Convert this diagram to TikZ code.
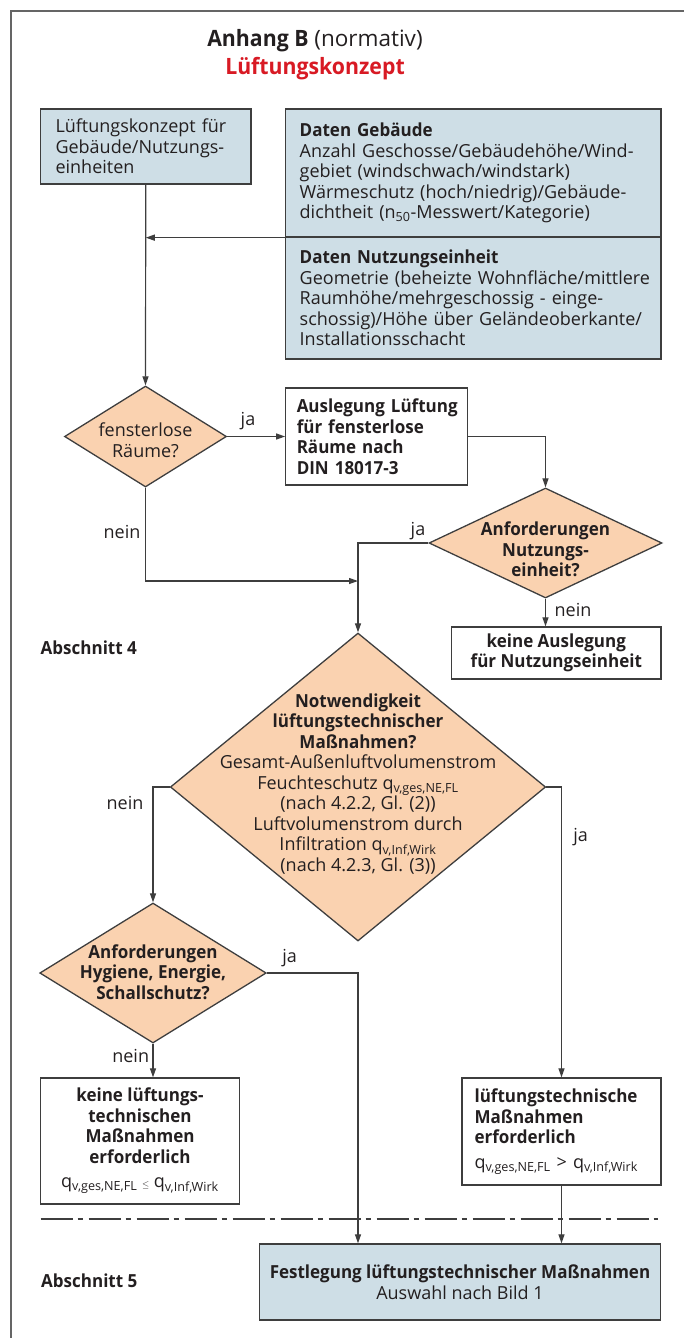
\documentclass[tikz,border=0pt]{standalone}
\usepackage{fontspec}
\setmainfont[BoldFeatures={FakeStretch=0.945}]{Open Sans}
\usetikzlibrary{arrows.meta,shapes.geometric}
\definecolor{B}{RGB}{206,222,230}
\definecolor{O}{RGB}{250,210,176}
\definecolor{R}{RGB}{216,26,36}
\definecolor{L}{RGB}{62,62,62}
\definecolor{T}{RGB}{35,31,32}
\newcommand\bodysize{\fontsize{18}{20.5}\selectfont}
\newcommand\titlesize{\fontsize{22.5}{26}\selectfont}

\begin{document}
\begin{tikzpicture}[x=1pt,y=-1pt,
   font=\bodysize, text=T,
   box/.style={draw=L, line width=1.3pt, rectangle, inner ysep=0pt},
   lbox/.style={box, align=left, inner xsep=0pt, execute at begin node={\leftskip=#1\relax}},
   dia/.style={draw=L, line width=1.3pt, fill=O, diamond, inner sep=0pt},
   lab/.style={inner sep=0pt},
   arr/.style={draw=L, line width=1.2pt, -{Triangle[length=9pt,width=6pt]}}]
   \useasboundingbox (0,0) rectangle (683,1338);
   \draw[line width=1.6pt, color=L!80] (11,1345) -- (11,11) -- (690,11);
   \node[lab] (titel) at (315,41) {\titlesize\textbf{Anhang B} (normativ)};
   \node[lab, text=R] (untertitel) at (315,69) {\titlesize\textbf{Lüftungskonzept}};

   \node[lbox=15pt, fill=B, text width=210.5, minimum height=75] (konzept) at (145.75,146.5)
      {Lüftungskonzept für\\Gebäude/Nutzungs-\\einheiten};
   \node[lbox=14pt, fill=B, text width=375.3, minimum height=128] (gebaeude) at (473.35,173)
      {\textbf{Daten Gebäude}\\Anzahl Geschosse/Gebäudehöhe/Wind-\\gebiet (windschwach/windstark)\\Wärmeschutz (hoch/niedrig)/Gebäude-\\dichtheit (n\textsubscript{50}-Messwert/Kategorie)};
   \node[lbox=14pt, fill=B, text width=375.3, minimum height=122] (nutzung) at (473.35,298)
      {\textbf{Daten Nutzungseinheit}\\Geometrie (beheizte Wohnfläche/mittlere\\Raumhöhe/mehrgeschossig - einge-\\schossig)/Höhe über Geländeoberkante/\\Installationsschacht};

   \node[dia, minimum width=162, minimum height=101] (fenster) at (145.5,436.5) {};
   \node[lab, align=center] (fenster-t) at (145.5,440) {fensterlose\\Räume?};
   \node[lbox=11pt, text width=182, minimum height=97, font=\bodysize\bfseries] (ausl) at (376.75,436.5)
      {Auslegung Lüftung\\für fensterlose\\Räume nach\\DIN 18017-3};
   \node[dia, minimum width=233, minimum height=110] (anfnutz) at (545.5,543) {};
   \node[lab, align=center, font=\bodysize\bfseries] (anfnutz-t) at (545.5,549.5) {Anforderungen\\Nutzungs-\\einheit?};
   \node[box, minimum width=209.4, minimum height=52, align=center, font=\bodysize\bfseries] (keinausl) at (556.3,653)
      {keine Auslegung\\für Nutzungseinheit};
   \node[lab, anchor=west, font=\bodysize\bfseries] (abs4) at (40.5,648) {Abschnitt 4};

   \node[dia, minimum width=375.3, minimum height=308] (notw) at (358,787) {};
   \node[lab, align=center] (notw-t) at (358,784)
      {\textbf{Notwendigkeit}\\\textbf{lüftungstechnischer}\\\textbf{Maßnahmen?}\\Gesamt-Außenluftvolumenstrom\\Feuchteschutz q\textsubscript{v,ges,NE,FL}\\(nach 4.2.2, Gl. (2))\\Luftvolumenstrom durch\\Infiltration q\textsubscript{v,Inf,Wirk}\\(nach 4.2.3, Gl. (3))};
   \node[dia, minimum width=226.5, minimum height=140] (anfhyg) at (153,973) {};
   \node[lab, align=center, font=\bodysize\bfseries] (anfhyg-t) at (153,972) {Anforderungen\\Hygiene, Energie,\\Schallschutz?};

   \node[box, minimum width=199, minimum height=126, align=center] (keinlueft) at (140,1141)
      {\textbf{keine lüftungs-}\\\textbf{technischen}\\\textbf{Maßnahmen}\\\textbf{erforderlich}\\[4pt]q\textsubscript{v,ges,NE,FL} {\small$\leq$} q\textsubscript{v,Inf,Wirk}};
   \node[lbox=12.6pt, text width=199, minimum height=107] (lufttech) at (561.5,1131.5)
      {\textbf{lüftungstechnische}\\\textbf{Maßnahmen}\\\textbf{erforderlich}\\[4pt]q\textsubscript{v,ges,NE,FL} > q\textsubscript{v,Inf,Wirk}};
   \node[box, fill=B, minimum width=400.7, minimum height=76, align=center] (final) at (460,1282)
      {\textbf{Festlegung lüftungstechnischer Maßnahmen}\\Auswahl nach Bild 1};
   \node[lab, anchor=west, font=\bodysize\bfseries] (abs5) at (41,1281) {Abschnitt 5};

   \coordinate (merge) at (358,581);
   \draw[arr] (gebaeude.south west) -- (gebaeude.south west -| konzept.south);
   \draw[arr] (konzept.south) -- (fenster.north);
   \draw[arr] (fenster.east) -- (ausl.west);
   \draw[arr] (ausl.east) -| (anfnutz.north);
   \draw[arr] (fenster.south) |- (merge);
   \draw[arr] (anfnutz.west) -| (notw.north);
   \draw[arr] (anfnutz.south) -- (anfnutz.south |- keinausl.north);
   \draw[arr] (notw.west) -| (anfhyg.north);
   \draw[arr] (notw.east) -| (lufttech.north);
   \draw[arr] (anfhyg.east) -| (notw.south |- final.north);
   \draw[arr] (anfhyg.south) -- (anfhyg.south |- keinlueft.north);
   \draw[arr] (lufttech.south) -- (lufttech.south |- final.north);
   \draw[L, line width=2.6pt, dash pattern=on 32pt off 5pt on 5pt off 6pt] (40.5,1219) -- (657.6,1219);

   \node[lab] (ja1) at (248,421) {ja};
   \node[lab] (nein1) at (122,532) {nein};
   \node[lab] (ja2) at (418,531) {ja};
   \node[lab] (nein2) at (573,610) {nein};
   \node[lab] (nein3) at (125,803) {nein};
   \node[lab] (ja3) at (580.6,837) {ja};
   \node[lab] (ja4) at (289.6,958) {ja};
   \node[lab] (nein4) at (130.7,1056) {nein};
\end{tikzpicture}
\end{document}
